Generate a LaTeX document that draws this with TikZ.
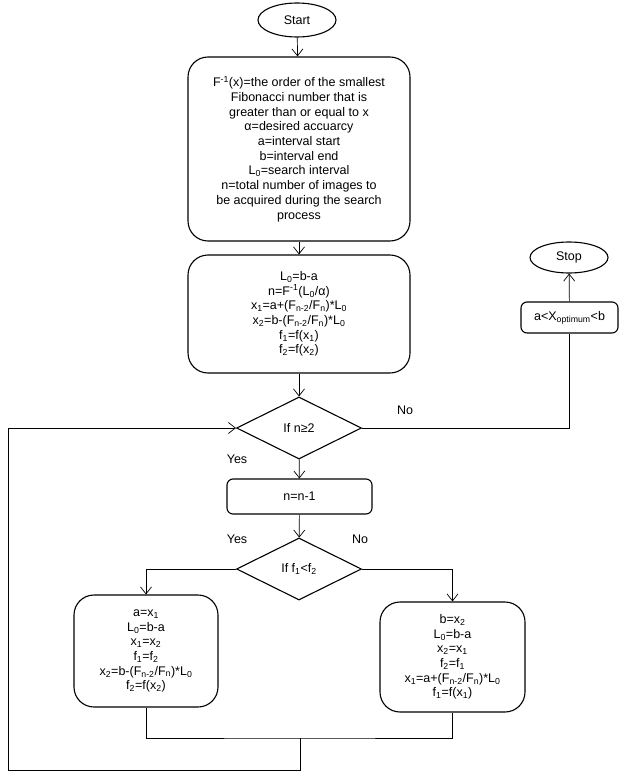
\documentclass[tikz,border=0pt]{standalone}
\usepackage{fontspec}
\setmainfont{Liberation Sans}
\usetikzlibrary{arrows.meta,shapes.geometric}
\begin{document}
\begin{tikzpicture}[x=1pt, y=-1pt, >={Straight Barb[length=7pt,width=11pt]},
    font=\fontsize{12.5}{14.7}\selectfont, line width=0.7pt,
    term/.style={draw, ellipse, line width=1.1pt, inner sep=0pt},
    proc/.style={draw, rounded corners=20pt, line width=1.1pt, align=center, inner sep=0pt},
    smallproc/.style={draw, rounded corners=6pt, line width=1.1pt, align=center, inner sep=0pt},
    decide/.style={draw, diamond, line width=1.1pt, inner sep=0pt, minimum width=125pt, minimum height=62pt}]
    \useasboundingbox (0,0) rectangle (629,781);
    \node[term, minimum width=78pt, minimum height=34pt] (start) at (297,20) {Start};
    \node[proc, minimum width=222pt, minimum height=184pt] (init) at (299,149)
        {F\textsuperscript{-1}(x)=the order of the smallest\\ Fibonacci number that is\\
         greater than or equal to x\\ α=desired accuarcy\\ a=interval start\\ b=interval end\\
         L\textsubscript{0}=search interval\\ n=total number of images to\\
         be acquired during the search\\ process};
    \node[proc, minimum width=222pt, minimum height=118pt] (calc) at (299,314)
        {L\textsubscript{0}=b-a\\ n=F\textsuperscript{-1}(L\textsubscript{0}/α)\\
         x\textsubscript{1}=a+(F\textsubscript{n-2}/F\textsubscript{n})*L\textsubscript{0}\\
         x\textsubscript{2}=b-(F\textsubscript{n-2}/F\textsubscript{n})*L\textsubscript{0}\\
         f\textsubscript{1}=f(x\textsubscript{1})\\ f\textsubscript{2}=f(x\textsubscript{2})};
    \node[decide] (check) at (299,428) {If n≥2};
    \node[smallproc, minimum width=145pt, minimum height=35pt] (dec) at (299.5,496.5) {n=n-1};
    \node[decide] (cmp) at (299,569) {If f\textsubscript{1}<f\textsubscript{2}};
    \node[proc, minimum width=144pt, minimum height=112pt] (lower) at (146,651)
        {a=x\textsubscript{1}\\ L\textsubscript{0}=b-a\\ x\textsubscript{1}=x\textsubscript{2}\\
         f\textsubscript{1}=f\textsubscript{2}\\
         x\textsubscript{2}=b-(F\textsubscript{n-2}/F\textsubscript{n})*L\textsubscript{0}\\
         f\textsubscript{2}=f(x\textsubscript{2})};
    \node[proc, minimum width=145pt, minimum height=110pt] (upper) at (452.5,657)
        {b=x\textsubscript{2}\\ L\textsubscript{0}=b-a\\ x\textsubscript{2}=x\textsubscript{1}\\
         f\textsubscript{2}=f\textsubscript{1}\\
         x\textsubscript{1}=a+(F\textsubscript{n-2}/F\textsubscript{n})*L\textsubscript{0}\\
         f\textsubscript{1}=f(x\textsubscript{1})};
    \node[smallproc, minimum width=97pt, minimum height=31pt] (opt) at (569.5,317.5)
        {a<X\textsubscript{optimum}<b};
    \node[term, minimum width=78pt, minimum height=31pt] (stop) at (569,257.5) {Stop};
    \node (yes1) at (237,459) {Yes};
    \node (no1) at (405,410) {No};
    \node (yes2) at (237,539) {Yes};
    \node (no2) at (360,539) {No};
    \coordinate (join) at (300,738);
    \coordinate (loop) at (8,770);
    \draw[->] (start) -- (init);
    \draw[->] (init) -- (calc);
    \draw[->] (calc) -- (check);
    \draw (check.east) -| (opt.south);
    \draw[->] (opt) -- (stop);
    \draw[->] (check) -- (dec);
    \draw[->] (dec) -- (cmp);
    \draw[->] (cmp.west) -| (lower.north);
    \draw[->] (cmp.east) -| (upper.north);
    \draw (lower.south) |- (join) -| (upper.south);
    \draw[->] (join) |- (loop) |- (check.west);
\end{tikzpicture}
\end{document}
